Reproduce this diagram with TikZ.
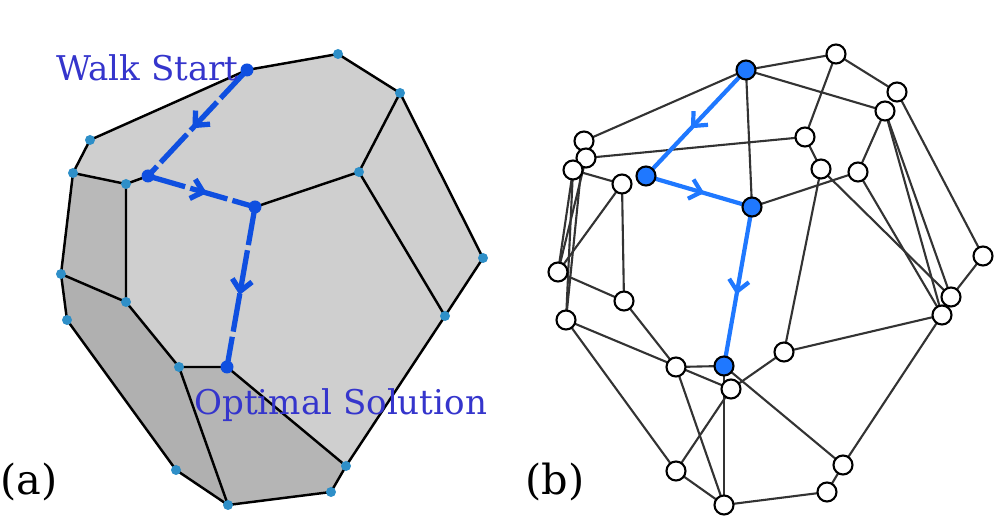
\documentclass[tikz,border=0pt]{standalone}
\usepackage{fontspec}
\setmainfont{DejaVu Serif}
\usetikzlibrary{arrows.meta,decorations.markings}
\definecolor{dotblue}{HTML}{2E8FC8}
\definecolor{pathblue}{HTML}{0F4FE0}
\definecolor{graphblue}{HTML}{1F78FF}
\definecolor{labelblue}{HTML}{3535CC}
\tikzset{
  vtx/.style={circle,fill=dotblue,inner sep=0pt,minimum size=1.0mm},
  opt/.style={circle,fill=pathblue,inner sep=0pt,minimum size=1.3mm},
  gv/.style={circle,draw=black,fill=white,line width=0.6pt,inner sep=0pt,minimum size=1.9mm},
  gb/.style={gv,fill=graphblue},
  edge/.style={line width=0.6pt,draw=black!80},
  midarrow/.style={decoration={markings,mark=at position 0.55 with {\arrow{#1}}},postaction={decorate}},
  walk/.style={pathblue,line width=1.5pt,dash pattern=on 11pt off 1.5pt,midarrow={Straight Barb[length=1.1mm,width=2mm]}},
  hop/.style={graphblue,line width=1.2pt,midarrow={Straight Barb[length=1.1mm,width=2mm]}}
}
\begin{document}
\begin{tikzpicture}[x=0.1mm,y=-0.1mm]
\useasboundingbox (0,0) rectangle (1000,520);
% (a) polytope
\foreach \n/\p in {a1/{338,54},a2/{247,70},a3/{400,93},a4/{90,140},a5/{73,173},a6/{126,184},
  a7/{148,176},a8/{359,172},a9/{255,207},a10/{483,258},a11/{61,274},a12/{126,302},a13/{67,320},
  a14/{445,316},a15/{179,367},a16/{227,367},a17/{176,470},a18/{346,466},a19/{228,505},a20/{331,492}}
  \coordinate (\n) at (\p);
\fill[gray!38] (a2)--(a1)--(a3)--(a10)--(a14)--(a18)--(a20)--(a19)--(a17)--(a13)--(a11)--(a5)--(a4)--cycle;
\fill[gray!55] (a5)--(a6)--(a12)--(a11)--cycle;
\fill[gray!62] (a11)--(a12)--(a15)--(a19)--(a17)--(a13)--cycle;
\fill[gray!58] (a15)--(a16)--(a18)--(a20)--(a19)--cycle;
\draw[line width=0.7pt] (a2)--(a1)--(a3)--(a10)--(a14)--(a18)--(a20)--(a19)--(a17)--(a13)--(a11)--(a5)--(a4)--(a2);
\draw[line width=0.7pt] (a3)--(a8)--(a14) (a8)--(a9) (a7)--(a6)--(a5) (a6)--(a12)--(a11)
  (a12)--(a15)--(a16)--(a18) (a15)--(a19);
\draw[walk] (a2)--(a7);
\draw[walk] (a7)--(a9);
\draw[walk] (a9)--(a16);
\foreach \n in {a1,a3,a4,a5,a6,a8,a10,a11,a12,a13,a14,a15,a17,a18,a19,a20}
  \node[vtx] at (\n) {};
\foreach \n in {a2,a7,a9,a16}
  \node[opt] at (\n) {};
\node[labelblue,anchor=east,font=\fontsize{9.7}{11}\selectfont] (start) at (251,68) {Walk Start};
\node[labelblue,anchor=west,font=\fontsize{9.7}{11}\selectfont] (sol) at (182,405) {Optimal Solution};
\node[font=\fontsize{11.8}{13}\selectfont] (la) at (29,482) {(a)};
% (b) graph
\foreach \n/\p in {b1/{836,54},b2/{746,70},b3/{897,92},b4/{885,111},b5/{584,141},b6/{805,137},
  b7/{586,158},b8/{573,170},b9/{646,176},b10/{622,184},b11/{821,169},b12/{858,172},b13/{752,207},
  b14/{983,256},b15/{558,272},b16/{624,301},b17/{951,297},b18/{566,320},b19/{942,315},b20/{784,352},
  b21/{676,367},b22/{724,366},b23/{731,389},b24/{676,471},b25/{843,465},b26/{827,492},b27/{724,505}}
  \coordinate (\n) at (\p);
\foreach \u/\v in {b5/b2,b2/b1,b1/b3,b2/b4,b2/b13,b1/b6,b3/b14,b4/b17,b4/b19,b4/b12,b6/b7,b6/b11,
  b11/b20,b11/b17,b12/b13,b12/b19,b14/b17,b19/b20,b19/b25,b20/b23,b23/b24,b8/b10,b10/b16,b10/b15,
  b5/b18,b7/b15,b8/b15,b8/b18,b15/b16,b16/b21,b21/b22,b21/b27,b18/b23,b18/b24,b22/b27,b22/b25,
  b24/b27,b27/b26,b26/b25}
  \draw[edge] (\u)--(\v);
\draw[hop] (b2)--(b9);
\draw[hop] (b9)--(b13);
\draw[hop] (b13)--(b22);
\foreach \n in {b1,b3,b4,b5,b6,b7,b8,b10,b11,b12,b14,b15,b16,b17,b18,b19,b20,b21,b23,b24,b25,b26,b27}
  \node[gv] at (\n) {};
\foreach \n in {b2,b9,b13,b22}
  \node[gb] at (\n) {};
\node[font=\fontsize{11.8}{13}\selectfont] (lb) at (555,482) {(b)};
\end{tikzpicture}
\end{document}
